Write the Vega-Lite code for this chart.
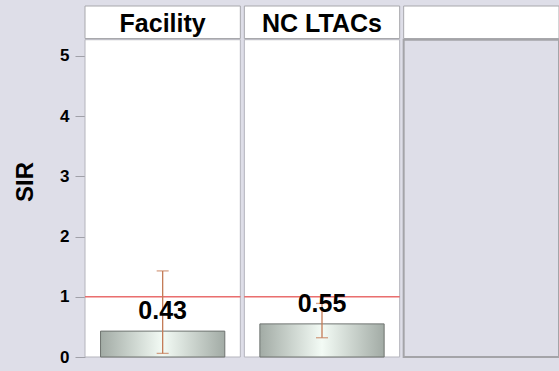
{
  "$schema": "https://vega.github.io/schema/vega-lite/v6.json",
  "width": 474,
  "height": 351,
  "autosize": {"type": "none"},
  "padding": {"left": 85, "top": 6, "right": 0, "bottom": 14},
  "background": "#dedee8",
  "config": {
    "view": {"stroke": null, "fill": null},
    "font": "Liberation Sans"
  },
  "datasets": {
    "panels": [{"group": "Facility"}, {"group": "NC LTACs"}, {"group": ""}],
    "sir": [
      {"group": "Facility", "sir": 0.43, "lower": 0.06, "upper": 1.43},
      {"group": "NC LTACs", "sir": 0.55, "lower": 0.32, "upper": 0.89}
    ]
  },
  "encoding": {
    "x": {
      "field": "group",
      "type": "nominal",
      "scale": {"domain": ["Facility", "NC LTACs", ""], "paddingInner": 0.0251, "paddingOuter": 0},
      "axis": null
    }
  },
  "layer": [
    {
      "data": {"name": "panels"},
      "transform": [{"filter": "datum.group != ''"}],
      "mark": {"type": "rect", "fill": "white", "stroke": "#b4b4bc", "strokeWidth": 1},
      "encoding": {
        "y": {"datum": 0, "type": "quantitative", "scale": {"domain": [0, 5.83], "nice": false, "zero": true},
          "axis": {
            "values": [0, 1, 2, 3, 4, 5],
            "format": "d",
            "title": "SIR",
            "titleFontSize": 24,
            "titleFontWeight": "bold",
            "titleColor": "black",
            "titlePadding": 22,
            "labelFontSize": 17,
            "labelFontWeight": "bold",
            "labelColor": "black",
            "labelPadding": 6,
            "tickSize": 10,
            "tickColor": "#a0a0a8",
            "domain": false,
            "grid": false
          }},
        "y2": {"datum": 5.27}
      }
    },
    {
      "data": {"name": "panels"},
      "transform": [{"filter": "datum.group == ''"}],
      "mark": {"type": "rect", "fill": "#dedee8", "stroke": "#a4a4a8", "strokeWidth": 2},
      "encoding": {
        "y": {"datum": 0, "type": "quantitative"},
        "y2": {"datum": 5.27}
      }
    },
    {
      "data": {"name": "panels"},
      "mark": {"type": "rect", "fill": "white", "stroke": "#a8a8ac", "strokeWidth": 1},
      "encoding": {
        "y": {"datum": 5.29, "type": "quantitative"},
        "y2": {"datum": 5.83}
      }
    },
    {
      "data": {"name": "panels"},
      "mark": {"type": "text", "fontSize": 25, "fontWeight": "bold", "color": "black", "baseline": "alphabetic", "dy": -7},
      "encoding": {
        "y": {"datum": 5.29, "type": "quantitative"},
        "text": {"field": "group"}
      }
    },
    {
      "data": {"name": "panels"},
      "transform": [{"filter": "datum.group != ''"}],
      "mark": {"type": "rect", "fill": null, "stroke": "#e86464", "strokeWidth": 1},
      "encoding": {
        "y": {"datum": 1, "type": "quantitative"},
        "y2": {"datum": 1}
      }
    },
    {
      "data": {"name": "sir"},
      "mark": {
        "type": "bar",
        "width": {"band": 0.8},
        "stroke": "#6e736f",
        "strokeWidth": 1,
        "color": {
          "gradient": "linear",
          "x1": 0, "x2": 1, "y1": 0, "y2": 0,
          "stops": [
            {"offset": 0, "color": "#a2aba5"},
            {"offset": 0.5, "color": "#f3fbf5"},
            {"offset": 1, "color": "#a2aba5"}
          ]
        }
      },
      "encoding": {
        "y": {"field": "sir", "type": "quantitative"}
      }
    },
    {
      "data": {"name": "sir"},
      "mark": {"type": "rule", "color": "#c47a56", "strokeWidth": 1.3},
      "encoding": {
        "y": {"field": "lower", "type": "quantitative"},
        "y2": {"field": "upper"}
      }
    },
    {
      "data": {"name": "sir"},
      "mark": {"type": "tick", "color": "#c47a56", "size": 12, "thickness": 1.3, "orient": "horizontal"},
      "encoding": {
        "y": {"field": "lower", "type": "quantitative"}
      }
    },
    {
      "data": {"name": "sir"},
      "mark": {"type": "tick", "color": "#c47a56", "size": 12, "thickness": 1.3, "orient": "horizontal"},
      "encoding": {
        "y": {"field": "upper", "type": "quantitative"}
      }
    },
    {
      "data": {"name": "sir"},
      "mark": {"type": "text", "fontSize": 25, "fontWeight": "bold", "color": "black", "baseline": "alphabetic", "dy": -12},
      "encoding": {
        "y": {"field": "sir", "type": "quantitative"},
        "text": {"field": "sir", "type": "quantitative", "format": ".2f"}
      }
    }
  ]
}
